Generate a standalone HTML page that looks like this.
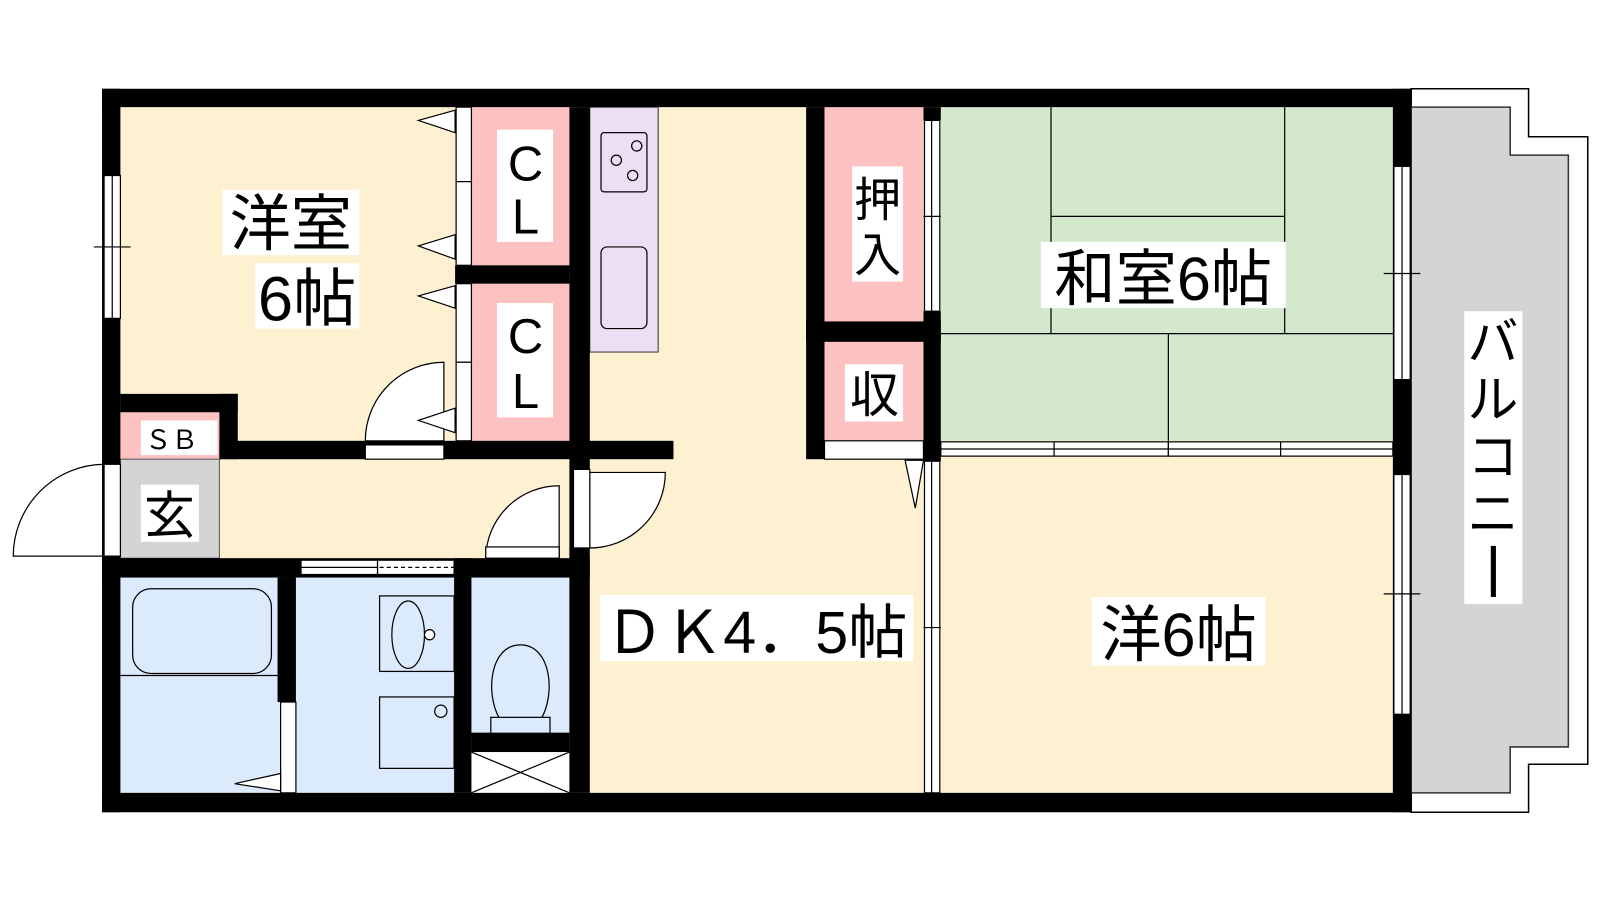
<!DOCTYPE html>
<html><head><meta charset="utf-8"><style>
html,body{margin:0;padding:0;background:#fff;width:1600px;height:900px;overflow:hidden}
text{font-family:"Liberation Sans","Noto Sans CJK JP",sans-serif;fill:#000}
</style></head><body>
<svg width="1600" height="900" viewBox="0 0 1568 882" xmlns="http://www.w3.org/2000/svg">
<!-- balcony -->
<polygon points="1383,87 1498,87 1498,134 1556,134 1556,749 1498,749 1498,796 1383,796" fill="#fff" stroke="#000" stroke-width="1.5"/>
<polygon points="1383,105 1480,105 1480,152 1537,152 1537,732 1480,732 1480,777 1383,777" fill="#d4d4d4" stroke="#333" stroke-width="1.5"/>
<!-- base fills -->
<rect x="118" y="105" width="1247" height="672" fill="#fdf1d2"/>
<rect x="462" y="105" width="96" height="155" fill="#fcc1c1"/>
<rect x="462" y="278" width="96" height="154" fill="#fcc1c1"/>
<rect x="118" y="404" width="97" height="46" fill="#fcc1c1"/>
<rect x="118" y="450" width="97" height="97" fill="#d4d4d4" stroke="#555" stroke-width="1"/>
<rect x="118" y="566" width="327" height="211" fill="#dbeafc"/>
<rect x="462" y="566" width="96" height="152" fill="#dbeafc"/>
<rect x="462" y="737" width="96" height="40" fill="#fff"/>
<rect x="578" y="105" width="67" height="240" fill="#ecdff4" stroke="#333" stroke-width="1"/>
<rect x="808" y="105" width="97" height="210" fill="#fcc1c1"/>
<rect x="808" y="335" width="97" height="97" fill="#fcc1c1"/>
<rect x="922" y="105" width="443" height="327" fill="#d3e8cd"/>
<!-- tatami -->
<g stroke="#000" stroke-width="1.2">
<line x1="1030" y1="105" x2="1030" y2="327"/><line x1="1259" y1="105" x2="1259" y2="327"/>
<line x1="1030" y1="212" x2="1259" y2="212"/><line x1="922" y1="327" x2="1365" y2="327"/>
<line x1="1145" y1="327" x2="1145" y2="432"/>
</g>
<!-- kitchen details -->
<g fill="none" stroke="#000" stroke-width="1.2">
<rect x="589" y="130" width="45" height="58" rx="3"/>
<circle cx="624" cy="143" r="5"/><circle cx="604" cy="157" r="5"/><circle cx="620" cy="172" r="5"/>
<rect x="589" y="242" width="45" height="80" rx="6"/>
<!-- bath -->
<rect x="130" y="577" width="136" height="83" rx="18"/>
<line x1="118" y1="662" x2="272" y2="662"/>
<rect x="372" y="584" width="73" height="74"/>
<ellipse cx="400" cy="622" rx="16" ry="33"/>
<circle cx="421" cy="622" r="5" fill="#fff"/>
<rect x="372" y="683" width="73" height="70"/>
<circle cx="432" cy="697" r="6"/>
<!-- toilet -->
<path d="M490,705 C475,680 480,632 510,632 C540,632 545,680 530,705"/>
<rect x="481" y="703" width="58" height="16" fill="#dbeafc"/>
<!-- x box -->
<line x1="462" y1="737" x2="558" y2="777"/><line x1="558" y1="737" x2="462" y2="777"/>
</g>
<!-- doors arcs -->
<g fill="#fff" stroke="#000" stroke-width="1.2">
<path d="M435,432 L435,355 A77,77 0 0 0 358,432 Z"/>
<path d="M102,545 L102,455 A90,90 0 0 0 13,545 Z"/>
<path d="M548,547 L548,476 A72,72 0 0 0 476,547 Z"/>
<path d="M578,463 L652,463 A74,74 0 0 1 578,537 Z"/>
</g>
<!-- walls -->
<g fill="#000">
<rect x="100" y="87" width="1283" height="18"/>
<rect x="100" y="777" width="1283" height="19"/>
<rect x="100" y="87" width="18" height="709"/>
<rect x="1365" y="87" width="18" height="709"/>
<rect x="118" y="386" width="115" height="18"/>
<rect x="215" y="386" width="18" height="64"/>
<rect x="215" y="432" width="445" height="18"/>
<rect x="446" y="260" width="112" height="18"/>
<rect x="558" y="105" width="20" height="672"/>
<rect x="100" y="547" width="478" height="19"/>
<rect x="272" y="566" width="18" height="122"/>
<rect x="445" y="547" width="17" height="230"/>
<rect x="462" y="718" width="96" height="19"/>
<rect x="790" y="105" width="18" height="345"/>
<rect x="790" y="315" width="132" height="20"/>
<rect x="905" y="105" width="17" height="13"/>
<rect x="905" y="305" width="17" height="147"/>
</g>
<!-- strips (windows / sliding doors) -->
<g fill="#fff" stroke="#000" stroke-width="1.2">
<rect x="102" y="172" width="16" height="140"/>
<rect x="102" y="455" width="16" height="90"/>
<rect x="1366" y="163" width="16" height="209"/>
<rect x="1366" y="465" width="16" height="235"/>
<rect x="447" y="105" width="15" height="73"/><rect x="447" y="178" width="15" height="82"/>
<rect x="447" y="278" width="15" height="77"/><rect x="447" y="355" width="15" height="77"/>
<rect x="358" y="436" width="77" height="14"/>
<rect x="295" y="549" width="75" height="14"/><rect x="370" y="549" width="75" height="14"/>
<rect x="476" y="536" width="72" height="11"/>
<rect x="562" y="460" width="16" height="77"/>
<rect x="275" y="688" width="15" height="89"/>
<rect x="808" y="432" width="97" height="18"/>
<rect x="906" y="118" width="15" height="187"/>
<rect x="906" y="452" width="15" height="325"/>
<rect x="922" y="433" width="223" height="14"/><rect x="1145" y="433" width="220" height="14"/>
</g>
<g stroke="#000" stroke-width="1.2" fill="none">
<line x1="110" y1="172" x2="110" y2="312"/><line x1="92" y1="242" x2="128" y2="242"/>
<line x1="1374" y1="163" x2="1374" y2="372"/><line x1="1356" y1="268" x2="1392" y2="268"/>
<line x1="1374" y1="465" x2="1374" y2="700"/><line x1="1356" y1="582" x2="1392" y2="582"/>
<line x1="913" y1="118" x2="913" y2="305"/><line x1="905" y1="212" x2="922" y2="212"/>
<line x1="913" y1="452" x2="913" y2="777"/><line x1="905" y1="615" x2="922" y2="615"/>
<line x1="922" y1="440" x2="1365" y2="440"/>
<line x1="1033" y1="433" x2="1033" y2="447"/><line x1="1255" y1="433" x2="1255" y2="447"/>
<line x1="295" y1="556" x2="370" y2="556"/>
<line x1="372" y1="556" x2="445" y2="556" stroke-dasharray="4,3"/>
</g>
<!-- swing triangles -->
<g fill="#fff" stroke="#000" stroke-width="1.2">
<polygon points="446,108 410,118 446,130"/>
<polygon points="446,230 410,241 446,254"/>
<polygon points="446,280 410,290 446,302"/>
<polygon points="446,400 410,412 446,424"/>
<polygon points="275,758 230,768 275,775"/>
<polygon points="887,451 905,451 897,498"/>
</g>
<!-- labels -->
<g fill="#fff">
<rect x="218" y="186" width="134" height="64"/><rect x="250" y="258" width="102" height="64"/>
<rect x="487" y="127" width="55" height="110"/><rect x="487" y="297" width="55" height="112"/>
<rect x="138" y="412" width="75" height="34"/><rect x="138" y="475" width="57" height="56"/>
<rect x="588" y="583" width="307" height="65"/>
<rect x="835" y="163" width="50" height="113"/><rect x="828" y="357" width="57" height="56"/>
<rect x="1020" y="237" width="240" height="65"/><rect x="1070" y="585" width="170" height="67"/>
<rect x="1435" y="305" width="57" height="287"/>
</g>
<text x="285" y="240" font-size="60" text-anchor="middle">洋室</text>
<text x="301" y="314" font-size="62" text-anchor="middle">6帖</text>
<text x="515" y="177" font-size="48" text-anchor="middle">C</text>
<text x="515" y="229" font-size="48" text-anchor="middle">L</text>
<text x="515" y="346" font-size="48" text-anchor="middle">C</text>
<text x="515" y="400" font-size="48" text-anchor="middle">L</text>
<text x="168" y="440" font-size="26" text-anchor="middle">ＳＢ</text>
<text x="166" y="523" font-size="50" text-anchor="middle">玄</text>
<text x="741" y="640" font-size="58" text-anchor="middle">ＤＫ4．5帖</text>
<text x="860" y="212" font-size="46" text-anchor="middle">押</text>
<text x="860" y="266" font-size="46" text-anchor="middle">入</text>
<text x="857" y="404" font-size="48" text-anchor="middle">収</text>
<text x="1140" y="294" font-size="60" text-anchor="middle">和室6帖</text>
<text x="1155" y="643" font-size="60" text-anchor="middle">洋6帖</text>
<g font-size="50" text-anchor="middle">
<text x="1463" y="353">バ</text><text x="1463" y="409">ル</text>
<text x="1463" y="465">コ</text><text x="1463" y="521">ニ</text>
</g>
<rect x="1461" y="535" width="5" height="50" fill="#000"/>
</svg>
</body></html>
